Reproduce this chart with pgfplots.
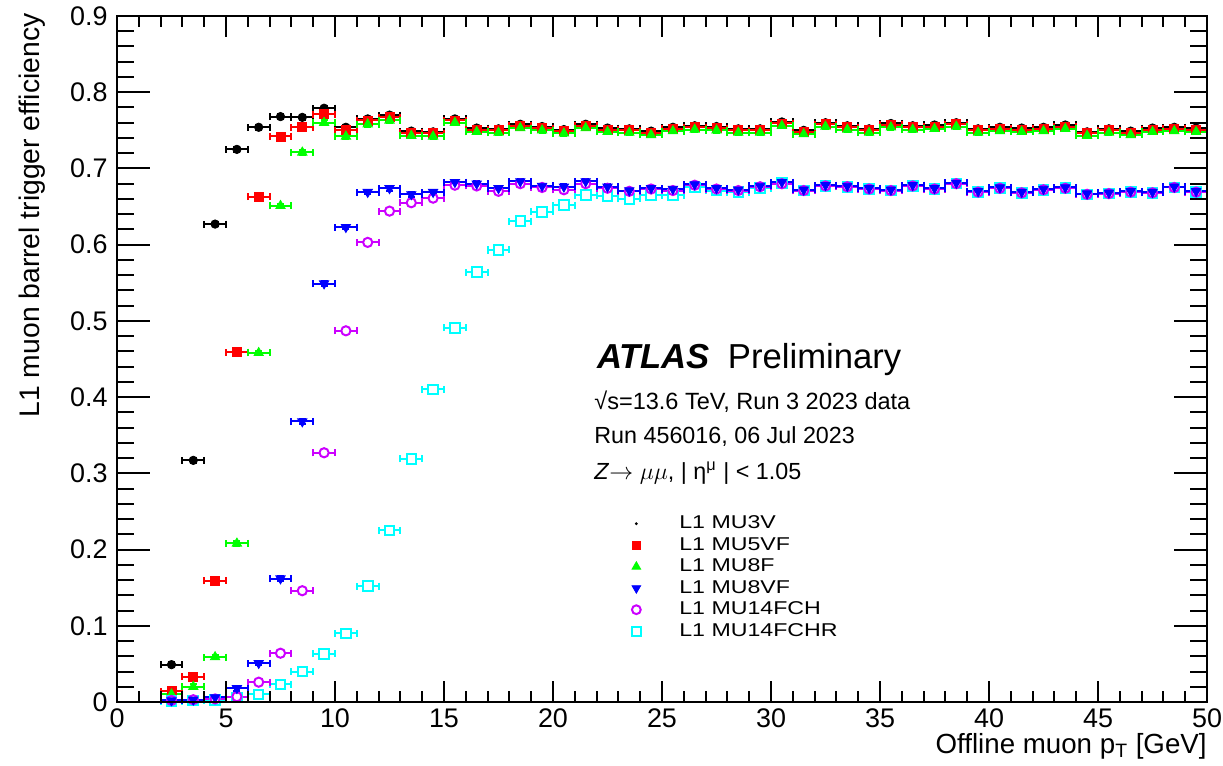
\documentclass[border=0pt]{standalone}
\usepackage{fontspec}
\setmainfont{Liberation Sans}
\newfontfamily\legfont[FakeStretch=1.25]{Liberation Sans}
\usepackage{pgfplots}
\pgfplotsset{compat=1.18}
\usepackage{pgfplotstable}

\definecolor{rgreen}{RGB}{0,255,0}
\definecolor{rviolet}{RGB}{204,0,255}
\definecolor{rcyan}{RGB}{0,255,255}

% L1 MU3V
\pgfplotstableread{
x y
2.5 0.049
3.5 0.317
4.5 0.627
5.5 0.725
6.5 0.754
7.5 0.768
8.5 0.767
9.5 0.779
10.5 0.754
11.5 0.765
12.5 0.770
13.5 0.749
14.5 0.748
15.5 0.765
16.5 0.753
17.5 0.752
18.5 0.758
19.5 0.755
20.5 0.751
21.5 0.758
22.5 0.753
23.5 0.752
24.5 0.749
25.5 0.754
26.5 0.756
27.5 0.755
28.5 0.752
29.5 0.752
30.5 0.761
31.5 0.750
32.5 0.760
33.5 0.756
34.5 0.752
35.5 0.759
36.5 0.756
37.5 0.757
38.5 0.760
39.5 0.752
40.5 0.754
41.5 0.753
42.5 0.754
43.5 0.757
44.5 0.748
45.5 0.752
46.5 0.749
47.5 0.753
48.5 0.754
49.5 0.753
}\tblA

% L1 MU5VF
\pgfplotstableread{
x y
2.5 0.014
3.5 0.033
4.5 0.159
5.5 0.459
6.5 0.663
7.5 0.742
8.5 0.754
9.5 0.771
10.5 0.750
11.5 0.763
12.5 0.767
13.5 0.747
14.5 0.746
15.5 0.763
16.5 0.751
17.5 0.750
18.5 0.756
19.5 0.753
20.5 0.749
21.5 0.756
22.5 0.751
23.5 0.750
24.5 0.747
25.5 0.752
26.5 0.754
27.5 0.753
28.5 0.750
29.5 0.750
30.5 0.759
31.5 0.748
32.5 0.758
33.5 0.754
34.5 0.750
35.5 0.757
36.5 0.754
37.5 0.755
38.5 0.758
39.5 0.750
40.5 0.752
41.5 0.751
42.5 0.752
43.5 0.755
44.5 0.746
45.5 0.750
46.5 0.747
47.5 0.751
48.5 0.752
49.5 0.751
}\tblB

% L1 MU8F
\pgfplotstableread{
x y
2.5 0.010
3.5 0.020
4.5 0.059
5.5 0.208
6.5 0.458
7.5 0.651
8.5 0.721
9.5 0.760
10.5 0.742
11.5 0.758
12.5 0.763
13.5 0.743
14.5 0.742
15.5 0.760
16.5 0.748
17.5 0.747
18.5 0.753
19.5 0.750
20.5 0.746
21.5 0.753
22.5 0.748
23.5 0.747
24.5 0.744
25.5 0.749
26.5 0.751
27.5 0.750
28.5 0.747
29.5 0.747
30.5 0.756
31.5 0.745
32.5 0.755
33.5 0.751
34.5 0.747
35.5 0.754
36.5 0.751
37.5 0.752
38.5 0.755
39.5 0.747
40.5 0.749
41.5 0.748
42.5 0.749
43.5 0.752
44.5 0.743
45.5 0.747
46.5 0.744
47.5 0.748
48.5 0.749
49.5 0.748
}\tblC

% L1 MU8VF
\pgfplotstableread{
x y
2.5 0.002
3.5 0.003
4.5 0.006
5.5 0.018
6.5 0.051
7.5 0.162
8.5 0.368
9.5 0.549
10.5 0.623
11.5 0.669
12.5 0.674
13.5 0.666
14.5 0.669
15.5 0.682
16.5 0.680
17.5 0.674
18.5 0.683
19.5 0.677
20.5 0.676
21.5 0.683
22.5 0.676
23.5 0.671
24.5 0.674
25.5 0.673
26.5 0.679
27.5 0.674
28.5 0.672
29.5 0.677
30.5 0.682
31.5 0.672
32.5 0.678
33.5 0.677
34.5 0.674
35.5 0.672
36.5 0.678
37.5 0.674
38.5 0.681
39.5 0.670
40.5 0.675
41.5 0.669
42.5 0.673
43.5 0.675
44.5 0.667
45.5 0.668
46.5 0.670
47.5 0.669
48.5 0.676
49.5 0.670
}\tblD

% L1 MU14FCH
\pgfplotstableread{
x y
2.5 0.002
3.5 0.003
4.5 0.004
5.5 0.007
6.5 0.026
7.5 0.064
8.5 0.146
9.5 0.327
10.5 0.487
11.5 0.603
12.5 0.644
13.5 0.655
14.5 0.661
15.5 0.678
16.5 0.677
17.5 0.670
18.5 0.680
19.5 0.675
20.5 0.672
21.5 0.680
22.5 0.674
23.5 0.670
24.5 0.673
25.5 0.671
26.5 0.678
27.5 0.673
28.5 0.671
29.5 0.676
30.5 0.680
31.5 0.671
32.5 0.677
33.5 0.676
34.5 0.673
35.5 0.671
36.5 0.677
37.5 0.673
38.5 0.680
39.5 0.669
40.5 0.674
41.5 0.668
42.5 0.672
43.5 0.674
44.5 0.666
45.5 0.667
46.5 0.669
47.5 0.668
48.5 0.675
49.5 0.669
}\tblE

% L1 MU14FCHR
\pgfplotstableread{
x y
2.5 0.001
3.5 0.002
4.5 0.003
5.5 0.006
6.5 0.010
7.5 0.023
8.5 0.040
9.5 0.063
10.5 0.090
11.5 0.152
12.5 0.225
13.5 0.319
14.5 0.410
15.5 0.491
16.5 0.564
17.5 0.593
18.5 0.631
19.5 0.643
20.5 0.652
21.5 0.665
22.5 0.664
23.5 0.660
24.5 0.665
25.5 0.665
26.5 0.675
27.5 0.671
28.5 0.669
29.5 0.674
30.5 0.681
31.5 0.671
32.5 0.677
33.5 0.676
34.5 0.673
35.5 0.671
36.5 0.677
37.5 0.673
38.5 0.680
39.5 0.669
40.5 0.674
41.5 0.668
42.5 0.672
43.5 0.674
44.5 0.666
45.5 0.667
46.5 0.669
47.5 0.668
48.5 0.675
49.5 0.669
}\tblF

\pgfplotsset{
  rootpts/.style={only marks, forget plot, error bars/.cd, x dir=both, x fixed=0.5, y dir=both, y fixed=0.003,
     error bar style={line width=1bp, solid}, error mark options={rotate=90, line width=1bp, mark size=1.75bp, solid}, /pgfplots/.cd},
}

\begin{document}
\begin{tikzpicture}
\begin{axis}[
  name=ax, at={(0,0)}, anchor=south west,
  scale only axis, width=545bp, height=343bp,
  xmin=0, xmax=50, ymin=0, ymax=0.9,
  clip=false,
  axis line style={line width=1bp},
  every tick/.style={line width=1bp, black},
  tick align=inside,
  xtick={0,5,...,50}, minor x tick num=0,
  xtick style={draw=none},
  ytick={0,0.1,0.2,0.3,0.4,0.5,0.6,0.7,0.8,0.9}, minor y tick num=4,
  major tick length=16.5bp, minor tick length=8.5bp,
  /pgf/number format/assume math mode=true,
  yticklabel style={/pgf/number format/fixed, /pgf/number format/precision=1, anchor=east, inner sep=0pt, xshift=-4.5bp},
  xticklabel style={anchor=base, inner sep=0pt, yshift=-12.5bp},
  ticklabel style={font=\fontsize{13.5}{14}\selectfont},
  xlabel={Offline muon p\textsubscript{T} [GeV]},
  xlabel style={at={(rel axis cs:1,0)}, anchor=base east, inner sep=0pt, yshift=-25.6bp, font=\fontsize{13.9}{14}\selectfont},
  ylabel={L1 muon barrel trigger efficiency},
  ylabel style={at={(axis description cs:-0.078,1.004)}, rotate=0, anchor=east, inner sep=0pt, font=\fontsize{14.2}{15}\selectfont},
  legend image code/.code={\path[draw=none, fill=none] (-3bp,-3bp) rectangle (21.5bp,3bp); \draw[#1] plot coordinates {(0bp,0bp)};},
  legend style={draw=none, fill=none, at={(rel axis cs:0.4706,0.2736)}, anchor=north west,
     inner sep=0pt, column sep=0pt, row sep=1.75bp,
     nodes={inner sep=0pt, text height=7bp, text depth=2bp},
     font=\legfont\fontsize{9.3}{10}\selectfont},
  legend cell align=left,
]
\addplot[black, mark=*, mark size=2.1bp, rootpts] table {\tblA};
\addplot[red, mark=square*, mark size=2.25bp, rootpts] table {\tblB};
\addplot[rgreen, mark=triangle*, mark size=2.7bp, rootpts] table {\tblC};
\addplot[rcyan, mark=square*, mark size=2.4bp, mark options={line width=1bp, fill=white}, rootpts] table {\tblF};
\addplot[rviolet, mark=*, mark size=2.3bp, mark options={line width=1bp, fill=white}, rootpts] table {\tblE};
\addplot[blue, mark=triangle*, mark size=2.7bp, mark options={rotate=180}, rootpts] table {\tblD};

\addlegendimage{only marks, black, mark=*, mark size=0.5bp}
\addlegendentry{L1 MU3V}
\addlegendimage{only marks, red, mark=square*, mark size=2.1bp}
\addlegendentry{L1 MU5VF}
\addlegendimage{only marks, rgreen, mark=triangle*, mark size=2.5bp}
\addlegendentry{L1 MU8F}
\addlegendimage{only marks, blue, mark=triangle*, mark size=2.5bp, mark options={rotate=180}}
\addlegendentry{L1 MU8VF}
\addlegendimage{only marks, rviolet, mark=o, mark size=2.2bp, mark options={line width=1bp}}
\addlegendentry{L1 MU14FCH}
\addlegendimage{only marks, rcyan, mark=square, mark size=2.2bp, mark options={line width=1bp}}
\addlegendentry{L1 MU14FCHR}

\node[anchor=base west, inner sep=0pt, font=\fontsize{17.4}{18}\selectfont] at (axis cs:22.0,0.4378) {{\bfseries\itshape ATLAS}\hspace{9bp}Preliminary};
\node[anchor=base west, inner sep=0pt, font=\fontsize{11.8}{12}\selectfont] at (axis cs:21.88,0.3831) {√s=13.6 TeV, Run 3 2023 data};
\node[anchor=base west, inner sep=0pt, font=\fontsize{11.7}{12}\selectfont] at (axis cs:21.88,0.3394) {Run 456016, 06 Jul 2023};
\node[anchor=base west, inner sep=0pt, font=\fontsize{11.7}{12}\selectfont] at (axis cs:21.88,0.2920) {\textit{Z}$\rightarrow\mu\mu$, | η\textsuperscript{μ} | < 1.05};
\end{axis}
\begin{axis}[
  at={(0,0)}, anchor=south west,
  scale only axis, width=545bp, height=343bp,
  xmin=0, xmax=50, ymin=0, ymax=0.9,
  axis line style={line width=1bp},
  every tick/.style={line width=1bp, black},
  tick align=inside,
  xtick={0,5,...,50}, minor x tick num=4, xticklabels={},
  ytick=\empty,
  major tick length=10.5bp, minor tick length=5.5bp,
]
\end{axis}
\pgfresetboundingbox
\path[use as bounding box] ([shift={(-58.5bp,-32bp)}]ax.south west) rectangle ([shift={(8bp,8bp)}]ax.north east);
\end{tikzpicture}
\end{document}
